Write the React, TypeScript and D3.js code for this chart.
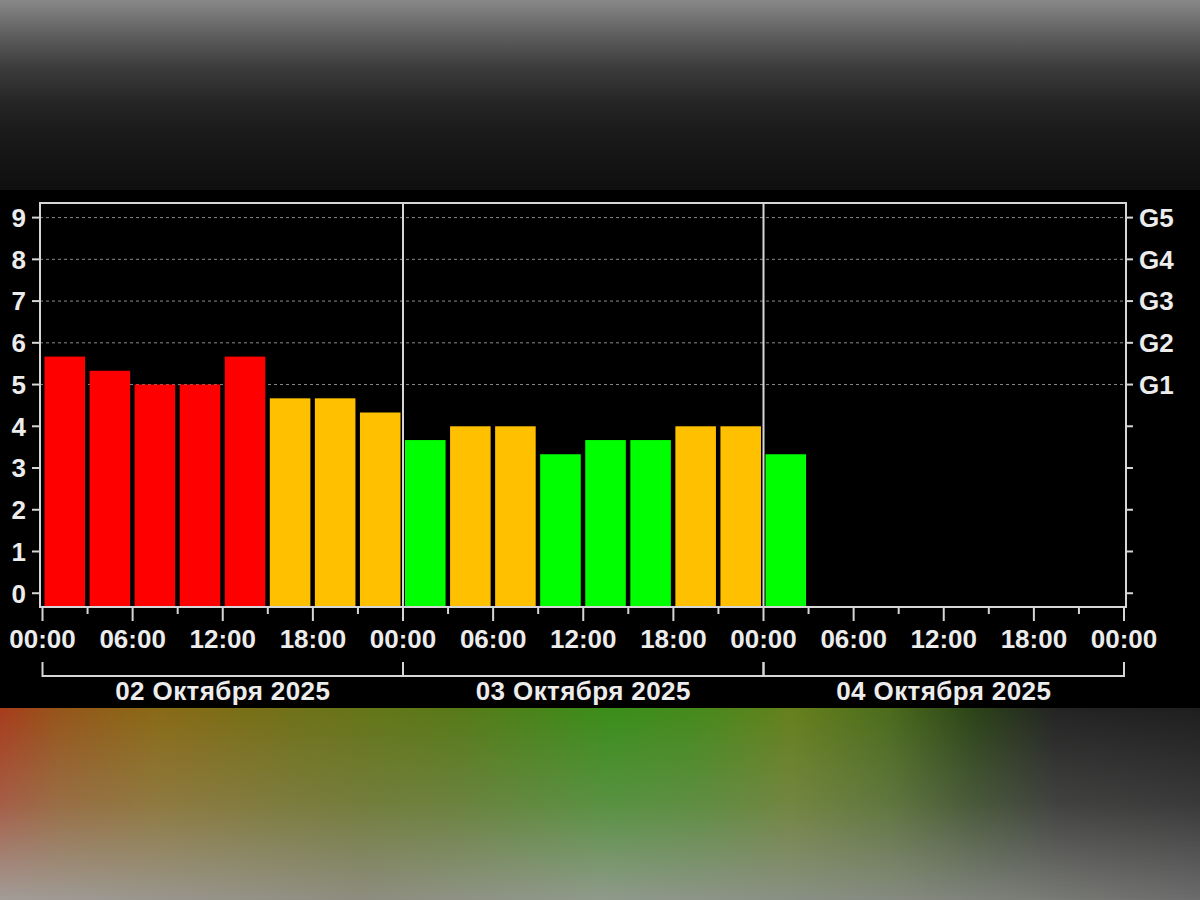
import React from "react";
import * as d3 from "d3";

const kpValues: number[] = [5.67, 5.33, 5.0, 5.0, 5.67, 4.67, 4.67, 4.33, 3.67, 4.0, 4.0, 3.33, 3.67, 3.67, 4.0, 4.0, 3.33];
const yTicks: number[] = [0, 1, 2, 3, 4, 5, 6, 7, 8, 9];
const gLevels: { value: number; label: string }[] = [
  { value: 5, label: "G1" },
  { value: 6, label: "G2" },
  { value: 7, label: "G3" },
  { value: 8, label: "G4" },
  { value: 9, label: "G5" },
];
const dayLabels: string[] = ["02 Октября 2025", "03 Октября 2025", "04 Октября 2025"];
const startDate = new Date(Date.UTC(2025, 9, 2, 0, 0));
const endDate = new Date(Date.UTC(2025, 9, 5, 0, 0));

const RED = "#ff0000";
const ORANGE = "#ffc000";
const GREEN = "#00ff00";
const colorFor = (v: number) => (v >= 5 ? RED : v >= 4 ? ORANGE : GREEN);

const FONT = "'Liberation Sans', Arial, sans-serif";
const TXT = "#ececec";
const LINE = "#d6d6d6";

export default function App() {
  const W = 1200, H = 900;
  const frameL = 40, frameR = 1126, frameT = 203, frameB = 607;
  const x = d3.scaleUtc().domain([startDate, endDate]).range([42.5, 1124]);
  const y = d3.scaleLinear().domain([-0.33, 9.35]).range([frameB, frameT]);
  const hour = (h: number) => d3.utcHour.offset(startDate, h);
  const fmt = d3.utcFormat("%H:%M");
  const tick3 = d3.utcHour.every(3)!.range(startDate, d3.utcHour.offset(endDate, 1));
  const days = d3.utcDay.range(startDate, endDate);

  return (
    <div style={{ position: "fixed", left: 0, top: 0, width: W, height: H }}>
      <svg width={W} height={H} style={{ display: "block" }}>
        <defs>
          <linearGradient id="topBand" x1="0" y1="0" x2="0" y2="1">
            <stop offset="0" stopColor="#888888" />
            <stop offset="0.18" stopColor="#5f5f5f" />
            <stop offset="0.36" stopColor="#3b3b3b" />
            <stop offset="0.53" stopColor="#262626" />
            <stop offset="0.7" stopColor="#1a1a1a" />
            <stop offset="0.88" stopColor="#131313" />
            <stop offset="1" stopColor="#0f0f0f" />
          </linearGradient>
          <linearGradient id="botTop" x1="0" y1="0" x2="1" y2="0">
            <stop offset="0" stopColor="#a83c1c" />
            <stop offset="0.05" stopColor="#96561a" />
            <stop offset="0.13" stopColor="#8a6a16" />
            <stop offset="0.25" stopColor="#6f7218" />
            <stop offset="0.38" stopColor="#587a18" />
            <stop offset="0.51" stopColor="#3a8e1a" />
            <stop offset="0.58" stopColor="#468a1c" />
            <stop offset="0.66" stopColor="#66801c" />
            <stop offset="0.74" stopColor="#4c6c1c" />
            <stop offset="0.81" stopColor="#2c4418" />
            <stop offset="0.88" stopColor="#242424" />
            <stop offset="1" stopColor="#1f1f1f" />
          </linearGradient>
          <linearGradient id="botBottom" x1="0" y1="0" x2="1" y2="0">
            <stop offset="0" stopColor="#a29d98" />
            <stop offset="0.3" stopColor="#8e8d80" />
            <stop offset="0.5" stopColor="#909a8c" />
            <stop offset="0.75" stopColor="#868a80" />
            <stop offset="1" stopColor="#6c6c6c" />
          </linearGradient>
          <linearGradient id="fade" x1="0" y1="0" x2="0" y2="1">
            <stop offset="0" stopColor="#000" />
            <stop offset="0.15" stopColor="#1a1a1a" />
            <stop offset="0.5" stopColor="#5a5a5a" />
            <stop offset="1" stopColor="#fff" />
          </linearGradient>
          <mask id="fadeMask" maskUnits="userSpaceOnUse" x="0" y="708" width="1200" height="192">
            <rect x={0} y={708} width={1200} height={192} fill="url(#fade)" />
          </mask>
        </defs>

        {/* backgrounds */}
        <rect x={0} y={0} width={W} height={190} fill="url(#topBand)" />
        <rect x={0} y={190} width={W} height={518} fill="#000" />
        <rect x={0} y={708} width={W} height={192} fill="url(#botTop)" />
        <rect x={0} y={708} width={W} height={192} fill="url(#botBottom)" mask="url(#fadeMask)" />

        {/* gridlines G1..G5 */}
        {gLevels.map((g) => (
          <line key={"g" + g.value} x1={frameL} x2={frameR} y1={y(g.value)} y2={y(g.value)}
            stroke="#8a8a8a" strokeWidth={1} strokeDasharray="3,3" />
        ))}

        {/* bars */}
        {kpValues.map((v, i) => {
          const x0 = x(hour(i * 3));
          const x1 = x(hour(i * 3 + 3));
          return (
            <rect key={"b" + i} x={x0 + 2} y={y(v)} width={x1 - x0 - 4.5}
              height={frameB - y(v)} fill={colorFor(v)} />
          );
        })}

        {/* day separators */}
        {days.slice(1).map((d, i) => (
          <line key={"sep" + i} x1={x(d)} x2={x(d)} y1={frameT} y2={frameB} stroke={LINE} strokeWidth={2} />
        ))}

        {/* frame */}
        <rect x={frameL} y={frameT} width={frameR - frameL} height={frameB - frameT}
          fill="none" stroke={LINE} strokeWidth={2} />

        {/* left axis */}
        {yTicks.map((t) => (
          <g key={"yl" + t}>
            <line x1={frameL - 8} x2={frameL} y1={y(t)} y2={y(t)} stroke={LINE} strokeWidth={2} />
            <text x={26} y={y(t)} dy="0.36em" textAnchor="end" fill={TXT}
              fontFamily={FONT} fontWeight="bold" fontSize={26}>{t}</text>
          </g>
        ))}

        {/* right axis */}
        {yTicks.map((t) => (
          <line key={"yr" + t} x1={frameR} x2={frameR + 7} y1={y(t)} y2={y(t)} stroke={LINE} strokeWidth={2} />
        ))}
        {gLevels.map((g) => (
          <text key={"gl" + g.value} x={1139} y={y(g.value)} dy="0.36em" textAnchor="start" fill={TXT}
            fontFamily={FONT} fontWeight="bold" fontSize={26}>{g.label}</text>
        ))}

        {/* bottom ticks */}
        {tick3.map((t, i) => {
          const major = t.getUTCHours() % 6 === 0;
          return (
            <line key={"xt" + i} x1={x(t)} x2={x(t)} y1={frameB} y2={frameB + (major ? 14 : 7)}
              stroke={LINE} strokeWidth={2} />
          );
        })}
        {tick3.filter((t) => t.getUTCHours() % 6 === 0).map((t, i) => (
          <text key={"xl" + i} x={x(t)} y={648} textAnchor="middle" fill={TXT}
            fontFamily={FONT} fontWeight="bold" fontSize={26}>{fmt(t)}</text>
        ))}

        {/* day brackets */}
        {days.map((d, i) => {
          const a = x(d);
          const b = x(d3.utcDay.offset(d, 1));
          return (
            <g key={"day" + i}>
              <path d={`M${a},662 V676 H${b} V662`} fill="none" stroke={LINE} strokeWidth={2} />
              <text x={(a + b) / 2} y={700} textAnchor="middle" fill={TXT}
                fontFamily={FONT} fontWeight="bold" fontSize={26} letterSpacing={0.4}>{dayLabels[i]}</text>
            </g>
          );
        })}
      </svg>
    </div>
  );
}
